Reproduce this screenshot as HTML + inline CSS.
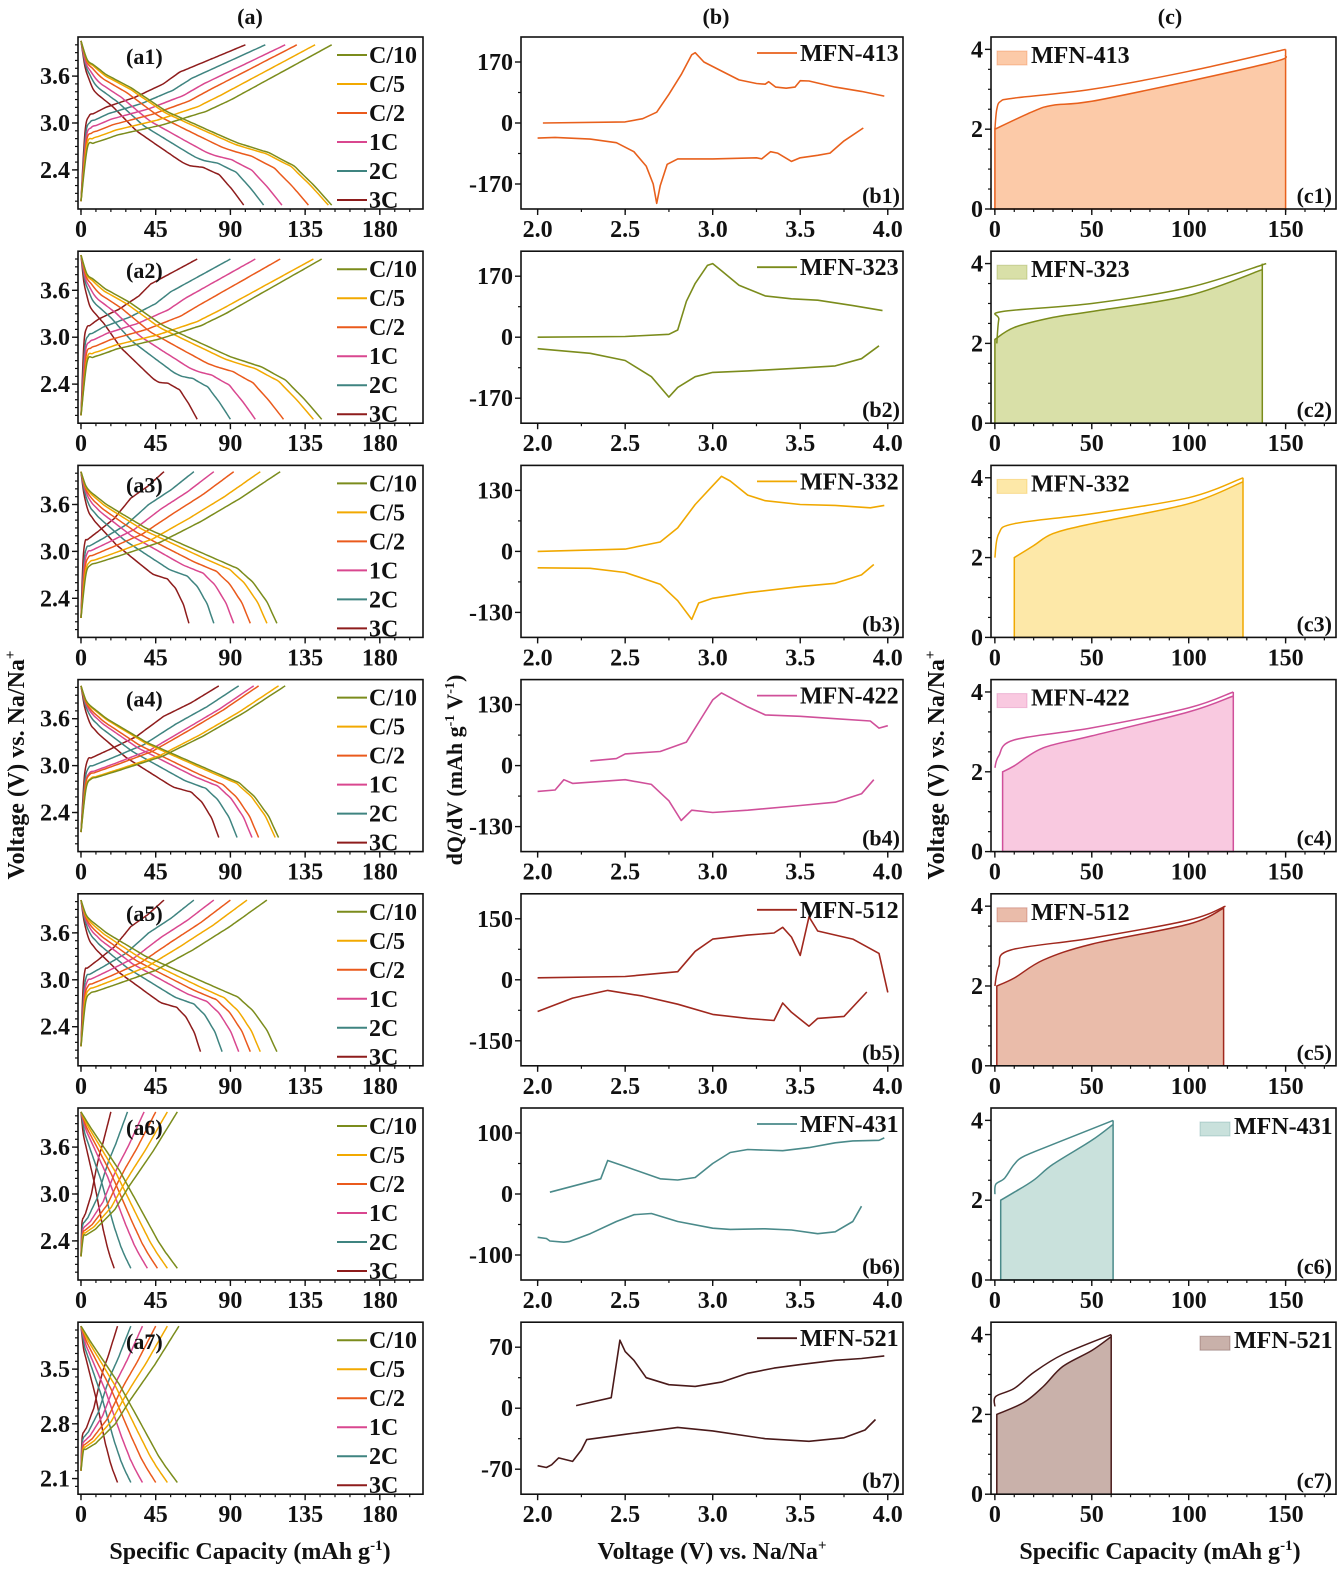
<!DOCTYPE html>
<html><head><meta charset="utf-8">
<style>
html,body{margin:0;padding:0;background:#fff;}
svg{display:block;}
text{font-family:"Liberation Serif",serif;font-weight:bold;fill:#111;}
</style></head>
<body>
<svg id="fig" width="1341" height="1571" viewBox="0 0 1341 1571" xmlns="http://www.w3.org/2000/svg">
<text x="250" y="24" font-size="22" text-anchor="middle">(a)</text>
<text x="716" y="24" font-size="22" text-anchor="middle">(b)</text>
<text x="1170" y="24" font-size="22" text-anchor="middle">(c)</text>
<text x="250" y="1559" font-size="24" text-anchor="middle">Specific Capacity (mAh g<tspan dy="-9" font-size="15">-1</tspan><tspan dy="9">)</tspan></text>
<text x="712" y="1559" font-size="24" text-anchor="middle">Voltage (V) vs. Na/Na<tspan dy="-9" font-size="15">+</tspan></text>
<text x="1160" y="1559" font-size="24" text-anchor="middle">Specific Capacity (mAh g<tspan dy="-9" font-size="15">-1</tspan><tspan dy="9">)</tspan></text>
<text transform="translate(24,765) rotate(-90)" font-size="24" text-anchor="middle">Voltage (V) vs. Na/Na<tspan dy="-9" font-size="15">+</tspan></text>
<text transform="translate(462,770) rotate(-90)" font-size="22" text-anchor="middle">dQ/dV (mAh g<tspan dy="-8" font-size="14">-1</tspan><tspan dy="8"> V</tspan><tspan dy="-8" font-size="14">-1</tspan><tspan dy="8">)</tspan></text>
<text transform="translate(944,765) rotate(-90)" font-size="24" text-anchor="middle">Voltage (V) vs. Na/Na<tspan dy="-9" font-size="15">+</tspan></text>
</svg>
<script>
// ---------- data ----------
const rates = ['C/10','C/5','C/2','1C','2C','3C'];
const rateColors = ['#7b8c1c','#f2a900','#ea5a1c','#d9478f','#3f8480','#8e1c1c'];
const chargeCap = [[151,141,130,123,111,99],[145,140,120,105,90,70],[120,108,92,80,68,50],[123,119,107,104,95,83],[112,100,90,80,68,50],[58,52,45,38,28,18],[59,52,45,37,30,22]];
const dischargeCap = [[151,149,137,121,110,98],[145,140,122,105,90,70],[118,112,102,92,80,65],[119,117,107,103,94,83],[118,108,102,95,85,72],[58,52,46,40,30,20],[58,52,45,37,30,22]];
const chargeShift = [[0,0.06,0.13,0.2,0.27,0.35],[0,0.05,0.12,0.2,0.28,0.38],[0,0.04,0.1,0.16,0.22,0.3],[0,0.01,0.06,0.08,0.15,0.25],[0,0.05,0.1,0.16,0.22,0.3],[0,0.03,0.06,0.1,0.15,0.2],[0,0.03,0.06,0.1,0.15,0.2]];
const dischargeShift = [[0,-0.02,-0.06,-0.12,-0.18,-0.25],[0,-0.03,-0.08,-0.14,-0.2,-0.28],[0,-0.02,-0.06,-0.1,-0.16,-0.22],[0,-0.01,-0.04,-0.07,-0.12,-0.2],[0,-0.02,-0.06,-0.1,-0.15,-0.22],[0,-0.02,-0.05,-0.08,-0.12,-0.15],[0,-0.02,-0.05,-0.08,-0.12,-0.15]];
const chargeShapeA = [[0,2.0],[0.01,2.55],[0.03,2.72],[0.15,2.85],[0.33,2.98],[0.5,3.15],[0.6,3.3],[0.8,3.65],[1,4.0]];
const dischShapeA = [[0,4.05],[0.02,3.82],[0.1,3.62],[0.2,3.45],[0.34,3.15],[0.5,2.92],[0.62,2.75],[0.75,2.62],[0.85,2.45],[0.93,2.2],[1,1.95]];
const chargeShapeB = [[0,2.15],[0.01,2.6],[0.04,2.82],[0.2,2.95],[0.4,3.12],[0.6,3.38],[0.8,3.68],[1,4.02]];
const dischShapeB = [[0,4.02],[0.03,3.8],[0.13,3.6],[0.33,3.3],[0.6,3.0],[0.8,2.78],[0.88,2.6],[0.95,2.35],[1,2.08]];
const chargeShapeC = [[0,2.2],[0.02,2.45],[0.15,2.55],[0.35,2.8],[0.5,3.1],[0.75,3.55],[1,4.05]];
const dischShapeC = [[0,4.05],[0.1,3.85],[0.4,3.3],[0.6,2.85],[0.8,2.4],[0.88,2.25],[1,2.05]];
const rowShapes = [0,0,1,1,1,2,2];
const aTicksY = [[2.4,3.0,3.6],[2.4,3.0,3.6],[2.4,3.0,3.6],[2.4,3.0,3.6],[2.4,3.0,3.6],[2.4,3.0,3.6],[2.1,2.8,3.5]];
const aTicksX = [0,45,90,135,180];

const sampleNames = ['MFN-413','MFN-323','MFN-332','MFN-422','MFN-512','MFN-431','MFN-521'];
const sampleColors = ['#e8601c','#7b8c1c','#f0a800','#d0509a','#a0281e','#4a8a8a','#4a1a1a'];
const sampleFills = ['#fccaa8','#d9e0a8','#fde8a8','#f9c9e0','#eabcaa','#c9e1dc','#c9b1aa'];
const bTick = [170,170,130,130,150,100,70];
const bTicksX = [2.0,2.5,3.0,3.5,4.0];
const bUpper = [
 [[2.03,0],[2.5,3],[2.6,12],[2.68,30],[2.75,80],[2.82,135],[2.88,190],[2.9,196],[2.95,170],[3.05,145],[3.15,120],[3.25,110],[3.3,108],[3.32,115],[3.36,100],[3.42,97],[3.47,100],[3.5,118],[3.55,117],[3.7,100],[3.85,88],[3.98,75]],
 [[2.0,0],[2.5,2],[2.75,8],[2.8,20],[2.85,100],[2.9,150],[2.97,200],[3.0,205],[3.05,185],[3.15,145],[3.3,115],[3.45,107],[3.6,103],[3.8,88],[3.97,74]],
 [[2.0,0],[2.5,5],[2.7,20],[2.8,50],[2.9,100],[3.0,140],[3.05,160],[3.1,150],[3.2,120],[3.3,108],[3.5,100],[3.7,98],[3.9,93],[3.98,98]],
 [[2.3,10],[2.45,15],[2.5,25],[2.7,30],[2.85,50],[2.95,110],[3.0,140],[3.05,155],[3.1,145],[3.2,125],[3.3,108],[3.5,105],[3.7,100],[3.9,95],[3.95,80],[4.0,85]],
 [[2.0,5],[2.5,8],[2.8,20],[2.9,70],[3.0,100],[3.2,110],[3.35,115],[3.4,129],[3.45,105],[3.5,60],[3.55,155],[3.6,120],[3.8,100],[3.95,65],[4.0,-31]],
 [[2.07,3],[2.36,25],[2.4,55],[2.5,45],[2.7,25],[2.8,23],[2.9,27],[3.0,50],[3.1,68],[3.2,73],[3.4,71],[3.55,76],[3.7,84],[3.8,87],[3.95,88],[3.98,92]],
 [[2.22,3],[2.42,12],[2.47,78],[2.5,65],[2.55,55],[2.62,35],[2.75,27],[2.9,25],[3.05,30],[3.2,40],[3.35,46],[3.5,50],[3.7,55],[3.85,57],[3.98,60]]
];
const bLower = [
 [[2.0,-42],[2.1,-40],[2.3,-45],[2.45,-55],[2.55,-80],[2.62,-120],[2.66,-170],[2.68,-224],[2.7,-175],[2.74,-115],[2.8,-100],[3.0,-100],[3.25,-97],[3.28,-100],[3.33,-80],[3.37,-84],[3.45,-107],[3.5,-97],[3.6,-90],[3.67,-84],[3.75,-50],[3.86,-14]],
 [[2.0,-32],[2.3,-45],[2.5,-65],[2.65,-110],[2.75,-167],[2.8,-140],[2.9,-110],[3.0,-98],[3.2,-94],[3.5,-86],[3.7,-80],[3.85,-60],[3.95,-24]],
 [[2.0,-35],[2.3,-36],[2.5,-45],[2.7,-70],[2.8,-105],[2.88,-145],[2.92,-110],[3.0,-100],[3.2,-88],[3.5,-75],[3.7,-68],[3.85,-50],[3.92,-28]],
 [[2.0,-55],[2.1,-52],[2.15,-30],[2.2,-38],[2.5,-30],[2.65,-40],[2.75,-75],[2.82,-117],[2.88,-95],[3.0,-100],[3.2,-95],[3.5,-85],[3.7,-78],[3.85,-60],[3.92,-30]],
 [[2.0,-78],[2.2,-45],[2.4,-26],[2.6,-40],[2.8,-60],[3.0,-85],[3.2,-95],[3.35,-100],[3.4,-57],[3.45,-80],[3.55,-114],[3.6,-95],[3.75,-90],[3.88,-30]],
 [[2.0,-71],[2.05,-73],[2.07,-77],[2.15,-79],[2.18,-78],[2.3,-65],[2.45,-45],[2.55,-34],[2.65,-32],[2.8,-45],[3.0,-56],[3.1,-58],[3.3,-57],[3.45,-59],[3.6,-65],[3.7,-62],[3.8,-45],[3.85,-20]],
 [[2.0,-66],[2.05,-68],[2.08,-65],[2.12,-57],[2.2,-61],[2.25,-48],[2.28,-36],[2.5,-30],[2.8,-22],[3.0,-26],[3.3,-35],[3.55,-38],[3.75,-34],[3.87,-25],[3.93,-13]]
];
const cUpper = [
 [[0,2.0],[1,2.5],[3,2.7],[10,2.78],[50,3.0],[100,3.45],[150,4.0]],
 [[1,2.0],[2,2.6],[4,2.8],[50,3.0],[100,3.4],[140,4.0]],
 [[0,2.0],[2,2.6],[10,2.85],[50,3.1],[100,3.5],[128,4.0]],
 [[0,2.1],[2,2.4],[10,2.8],[50,3.1],[100,3.6],[123,4.0]],
 [[0,2.0],[2,2.5],[8,2.9],[50,3.2],[100,3.65],[119,4.0]],
 [[0,2.15],[0.5,2.4],[5,2.55],[10,2.9],[15,3.1],[30,3.4],[61,4.0]],
 [[0,2.2],[0.5,2.45],[10,2.65],[20,3.05],[35,3.5],[60,4.0]]
];
const cLower = [
 [[0,2.0],[20,2.45],[30,2.6],[50,2.7],[100,3.2],[145,3.7],[150,3.85]],
 [[0,2.1],[10,2.4],[30,2.65],[50,2.8],[100,3.2],[138,3.85]],
 [[10,2.0],[20,2.3],[30,2.6],[50,2.85],[100,3.35],[128,3.9]],
 [[4,2.0],[10,2.15],[25,2.6],[50,2.9],[100,3.5],[123,3.9]],
 [[1,2.0],[10,2.2],[25,2.65],[50,3.05],[100,3.55],[118,3.95]],
 [[3,2.0],[10,2.2],[20,2.5],[30,2.9],[50,3.5],[61,3.9]],
 [[1,2.0],[15,2.3],[25,2.7],[35,3.2],[50,3.6],[60,3.95]]
];
const cTicksX = [0,50,100,150];
const cTicksY = [0,2,4];

// ---------- helpers ----------
const NS = 'http://www.w3.org/2000/svg';
const svg = document.getElementById('fig');
function mk(tag, attrs, parent){ const e=document.createElementNS(NS,tag); for(const k in attrs) e.setAttribute(k,attrs[k]); (parent||svg).appendChild(e); return e; }
function lin(d0,d1,r0,r1){ return v => r0 + (v-d0)/(d1-d0)*(r1-r0); }
function interp(shape,f){ for(let i=1;i<shape.length;i++){ if(f<=shape[i][0]){ const a=shape[i-1],b=shape[i]; return a[1]+(b[1]-a[1])*(f-a[0])/(b[0]-a[0]); } } return shape[shape.length-1][1]; }
function smoothPath(pts){ if(pts.length<3) return 'M'+pts.map(p=>p.join(',')).join('L');
  let d='M'+pts[0][0].toFixed(1)+','+pts[0][1].toFixed(1);
  for(let i=0;i<pts.length-1;i++){ const p0=pts[Math.max(0,i-1)],p1=pts[i],p2=pts[i+1],p3=pts[Math.min(pts.length-1,i+2)];
    const c1=[p1[0]+(p2[0]-p0[0])/6,p1[1]+(p2[1]-p0[1])/6], c2=[p2[0]-(p3[0]-p1[0])/6,p2[1]-(p3[1]-p1[1])/6];
    d+='C'+c1.map(v=>v.toFixed(1)).join(',')+' '+c2.map(v=>v.toFixed(1)).join(',')+' '+p2.map(v=>v.toFixed(1)).join(','); }
  return d; }
const rowTop = i => 37 + 214.2*i;
const H = 172;
function fmt(v){ return (Math.abs(v)<1e-9)?'0':String(v); }

function axes(g, L, R, T, sx, sy, xt, yt, xminor, yminor, xfmt, yfmt, id){
  const B=T+H;
  const fr = mk('rect',{x:L,y:T,width:R-L,height:H,fill:'none',stroke:'#111','stroke-width':1.6},g);
  
  
  xminor.forEach(v=>{ const x=sx(v); if(x>L&&x<R) mk('line',{x1:x,x2:x,y1:B,y2:B+3,stroke:'#111','stroke-width':1.2},g); });
  yminor.forEach(v=>{ const y=sy(v); if(y>T&&y<B) mk('line',{x1:L,x2:L-3,y1:y,y2:y,stroke:'#111','stroke-width':1.2},g); });
  xt.forEach(v=>{ const x=sx(v);
    mk('line',{x1:x,x2:x,y1:B,y2:B+6,stroke:'#111','stroke-width':1.4},g);
    const t=mk('text',{x:x,y:B+28,'font-size':24,'text-anchor':'middle'},g); t.textContent=xfmt(v);
    
     });
  yt.forEach(v=>{ const y=sy(v);
    mk('line',{x1:L,x2:L-6,y1:y,y2:y,stroke:'#111','stroke-width':1.4},g);
    const t=mk('text',{x:L-8,y:y+8,'font-size':24,'text-anchor':'end'},g); t.textContent=yfmt(v);
    
     });
}

// ---------- column a ----------
for(let r=0;r<7;r++){
  const T=rowTop(r), L=78, R=423;
  const sx=lin(-1.8,206,L,R), sy=lin(1.9,4.1,T+H,T);
  const g=mk('g',{});
  
  
  const xminor=[]; for(let v=0;v<=200;v+=9) xminor.push(v);
  const yminor=[]; for(let v=1.9;v<=4.1;v+=0.1) yminor.push(v);
  axes(g,L,R,T,sx,sy,aTicksX,aTicksY[r],xminor,yminor,fmt,v=>v.toFixed(1),'a'+(r+1));
  const sh=rowShapes[r];
  const cs=[chargeShapeA,chargeShapeB,chargeShapeC][sh], ds=[dischShapeA,dischShapeB,dischShapeC][sh];
  for(let k=5;k>=0;k--){
    const cp=[], dp=[];
    for(let i=0;i<=40;i++){ const f=i/40;
      const wc=Math.min(1,f*25,(1-f)*2.5), wd=Math.min(1,f*15,(1-f)*3);
      cp.push([sx(f*chargeCap[r][k]), sy(interp(cs,f)+chargeShift[r][k]*wc)]);
      dp.push([sx(f*dischargeCap[r][k]), sy(interp(ds,f)+dischargeShift[r][k]*wd)]); }
    const pc=mk('path',{d:smoothPath(cp),fill:'none',stroke:rateColors[k],'stroke-width':1.5},g);
    
    
    const pd=mk('path',{d:smoothPath(dp),fill:'none',stroke:rateColors[k],'stroke-width':1.5},g);
    
    
  }
  for(let k=0;k<6;k++){
    const y=T+18+k*29;
    const ln=mk('line',{x1:337,x2:367,y1:y,y2:y,stroke:rateColors[k],'stroke-width':2},g);
    
    
    const t=mk('text',{x:369,y:y+8,'font-size':24},g); t.textContent=rates[k];
    
    
  }
  const pl=mk('text',{x:126,y:T+27,'font-size':22},g); pl.textContent='(a'+(r+1)+')';
  
  
}

// ---------- column b ----------
for(let r=0;r<7;r++){
  const T=rowTop(r), L=521, R=903, tv=bTick[r], ext=tv*86/61;
  const sx=lin(1.905,4.087,L,R), sy=lin(-ext,ext,T+H,T);
  const g=mk('g',{});
  
  
  const xminor=[]; for(let v=2.0;v<=4.05;v+=0.25) xminor.push(v);
  const yminor=[-tv*1.5,-tv*0.5,tv*0.5,tv*1.5];
  axes(g,L,R,T,sx,sy,bTicksX,[-tv,0,tv],xminor,yminor,v=>v.toFixed(1),v=>fmt(v),'b'+(r+1));
  [bUpper[r],bLower[r]].forEach((arr,j)=>{
    const p=mk('polyline',{points:arr.map(d=>sx(d[0]).toFixed(1)+','+sy(d[1]).toFixed(1)).join(' '),fill:'none',stroke:sampleColors[r],'stroke-width':1.6,'stroke-linejoin':'round'},g);
    
    
  });
  const ln=mk('line',{x1:757,x2:797,y1:T+16,y2:T+16,stroke:sampleColors[r],'stroke-width':1.8},g);
  
  
  const t=mk('text',{x:800,y:T+24,'font-size':24},g); t.textContent=sampleNames[r];
  
  
  const pl=mk('text',{x:900,y:T+166,'font-size':22,'text-anchor':'end'},g); pl.textContent='(b'+(r+1)+')';
  
  
}

// ---------- column c ----------
for(let r=0;r<7;r++){
  const T=rowTop(r), L=991, R=1336;
  const sx=lin(-2,176,L,R), sy=lin(0,4.31,T+H,T);
  const g=mk('g',{});
  
  
  const xminor=[]; for(let v=0;v<=175;v+=10) xminor.push(v);
  const yminor=[0.5,1,1.5,2.5,3,3.5];
  const lo=cLower[r], up=cUpper[r], col=sampleColors[r];
  const xs=lo[0][0], xe=lo[lo.length-1][0];
  const lp=lo.map(d=>[sx(d[0]),sy(d[1])]);
  const fillD='M'+sx(xs).toFixed(1)+','+sy(0).toFixed(1)+'L'+smoothPath(lp).slice(1)+'L'+sx(xe).toFixed(1)+','+sy(4).toFixed(1)+'L'+sx(xe).toFixed(1)+','+sy(0).toFixed(1)+'Z';
  const fa=mk('path',{d:fillD,fill:sampleFills[r],stroke:col,'stroke-width':1.5},g);
  
  
  const up2=up.map(d=>[sx(d[0]),sy(d[1])]);
  const pu=mk('path',{d:smoothPath(up2),fill:'none',stroke:col,'stroke-width':1.5},g);
  
  
  axes(g,L,R,T,sx,sy,cTicksX,cTicksY,xminor,yminor,fmt,fmt,'c'+(r+1));
  const lx = r<5 ? 997 : 1200;
  const sw=mk('rect',{x:lx,y:T+14,width:30,height:14,fill:sampleFills[r],stroke:col,'stroke-opacity':0.3},g);
  
  
  const t=mk('text',{x:lx+34,y:T+26,'font-size':24},g); t.textContent=sampleNames[r];
  
  
  const pl=mk('text',{x:1332,y:T+166,'font-size':22,'text-anchor':'end'},g); pl.textContent='(c'+(r+1)+')';
  
  
}
</script>
</body></html>
